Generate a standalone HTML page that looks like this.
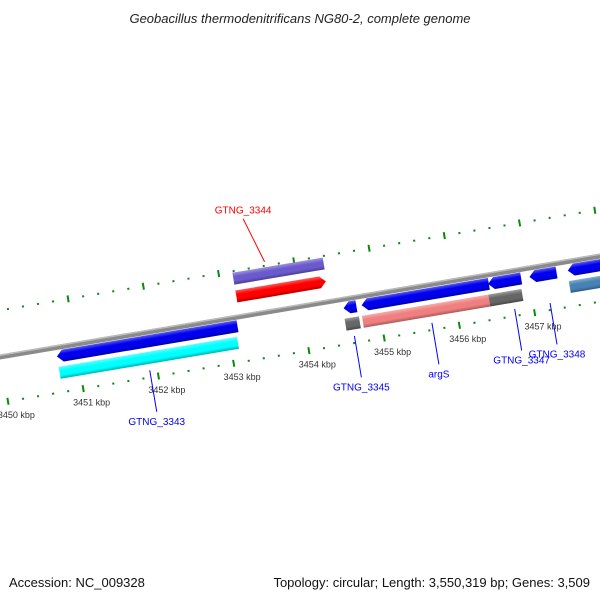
<!DOCTYPE html>
<html><head><meta charset="utf-8"><style>
html,body{margin:0;padding:0;background:#fff}
svg{display:block;font-family:"Liberation Sans",sans-serif}
</style></head><body>
<svg id="chart" width="600" height="600" viewBox="0 0 600 600">
<defs>
<linearGradient id="shade" x1="0" y1="0" x2="0" y2="1">
<stop offset="0" stop-color="#fff" stop-opacity="0.35"/>
<stop offset="0.35" stop-color="#fff" stop-opacity="0"/>
<stop offset="0.7" stop-color="#000" stop-opacity="0"/>
<stop offset="1" stop-color="#000" stop-opacity="0.3"/>
</linearGradient>
</defs>
<text x="300" y="23" text-anchor="middle" font-size="13" font-style="italic" fill="#222">Geobacillus thermodenitrificans NG80-2, complete genome</text>
<g id="band" transform="translate(0,357) rotate(-9.55)"></g>
<g id="labels"></g>
<text x="9" y="587" font-size="13" fill="#111">Accession: NC_009328</text>
<text x="590" y="587" text-anchor="end" font-size="13" fill="#111">Topology: circular; Length: 3,550,319 bp; Genes: 3,509</text>
</svg>
<script>
// data (kbp)
const geneNames = ["GTNG_3343a","GTNG_3343","GTNG_3344p","GTNG_3344","GTNG_3345","GTNG_3345g","argSb","argS","argSg","GTNG_3347","GTNG_3348","GTNG_3349","GTNG_3349s"];
const geneStart = [3450.73,3450.73,3453.18,3453.18,3454.54,3454.53,3454.78,3454.76,3456.44,3456.46,3457.01,3457.52,3457.51];
const geneEnd =   [3453.13,3453.10,3454.38,3454.37,3454.71,3454.72,3456.47,3456.44,3456.88,3456.90,3457.37,3458.30,3458.30];
const geneTrack = [1,2,-2,-1,1,2,1,2,2,1,1,1,2];
const geneDir =   [-1,0,0,1,-1,0,-1,0,0,-1,-1,-1,0];
const geneColor = ["#0000ee","#00ffff","#6a5acd","#ff0000","#0000ee","#666666","#0000ee","#f08080","#666666","#0000ee","#0000ee","#0000ee","#4682b4"];
const tickMajors = [3450,3451,3452,3453,3454,3455,3456,3457,3458];
const tickLabels = ["3450 kbp","3451 kbp","3452 kbp","3453 kbp","3454 kbp","3455 kbp","3456 kbp","3457 kbp","3458 kbp"];
const callNames = ["GTNG_3344","GTNG_3343","GTNG_3345","argS","GTNG_3347","GTNG_3348"];
const callKbp = [3453.62,3451.9,3454.62,3455.65,3456.75,3457.22];
const callSide = [-1,1,1,1,1,1];

const NS="http://www.w3.org/2000/svg";
const TH=9.55*Math.PI/180, C=Math.cos(TH), S=Math.sin(TH);
const X=k=>76.8+(k-3451)*76.3;
const trackV={"-2":-38.5,"-1":-20.5,"1":9,"2":25.5};
const toScreen=(u,v)=>[u*C+v*S, 357-u*S+v*C];
const band=document.getElementById('band'), labels=document.getElementById('labels');
function mk(tag,attrs,parent){const e=document.createElementNS(NS,tag);for(const k in attrs)e.setAttribute(k,attrs[k]);parent.appendChild(e);return e;}

// backbone
const bb=mk('rect',{x:-50,y:-2.5,width:800,height:5,fill:'#8a8a8a'},band);


mk('rect',{x:-50,y:-2.5,width:800,height:1.5,fill:'#bbb'},band);

// ruler ticks
for(let i=0;i<=45;i++){
  const k=3449.8+i*0.2; const u=X(k);
  const major=Math.abs(k-Math.round(k))<0.01;
  [-46,45].forEach(v=>{
    const r=mk('rect',major?{x:u-1,y:v-3.5,width:2,height:7,fill:'#0a8a0a'}:{x:u-1,y:v-1,width:2,height:2,fill:'#0a8a0a'},band);
    
    
  });
}
tickMajors.forEach((k,i)=>{
  const [x,y]=toScreen(X(k)+6,60);
  const t=mk('text',{x:x,y:y+3,'text-anchor':'middle','font-size':9,fill:'#333'},labels);
  t.textContent=tickLabels[i];
  
  
});

// genes
geneNames.forEach((n,i)=>{
  const u0=X(geneStart[i]),u1=X(geneEnd[i]),v=trackV[geneTrack[i]],h=12,t=v-h/2,b=v+h/2,ah=6;
  let d;
  if(geneDir[i]===1) d=`M${u0},${t}L${u1-ah},${t}L${u1},${v}L${u1-ah},${b}L${u0},${b}Z`;
  else if(geneDir[i]===-1) d=`M${u1},${t}L${u0+ah},${t}L${u0},${v}L${u0+ah},${b}L${u1},${b}Z`;
  else d=`M${u0},${t}L${u1},${t}L${u1},${b}L${u0},${b}Z`;
  const p=mk('path',{d:d,fill:geneColor[i]},band);
  
  
  mk('path',{d:d,fill:'url(#shade)'},band);
});

// callouts
callNames.forEach((n,i)=>{
  const u=X(callKbp[i]);
  const side=callSide[i];
  const v0=side<0?-50:38, v1=side<0?-96:80;
  const [x0,y0]=toScreen(u,v0),[x1,y1]=toScreen(u+ (side<0?-14:0),v1);
  const col=side<0?'#ff0000':'#0000ff';
  const l=mk('line',{x1:x0,y1:y0,x2:x1,y2:y1,stroke:col,'stroke-width':1},labels);
  
  
  const t=mk('text',{x:x1,y:side<0?y1-5:y1+13,'text-anchor':'middle','font-size':10,fill:col},labels);
  t.textContent=n;
  
  
});
</script>
</body></html>
